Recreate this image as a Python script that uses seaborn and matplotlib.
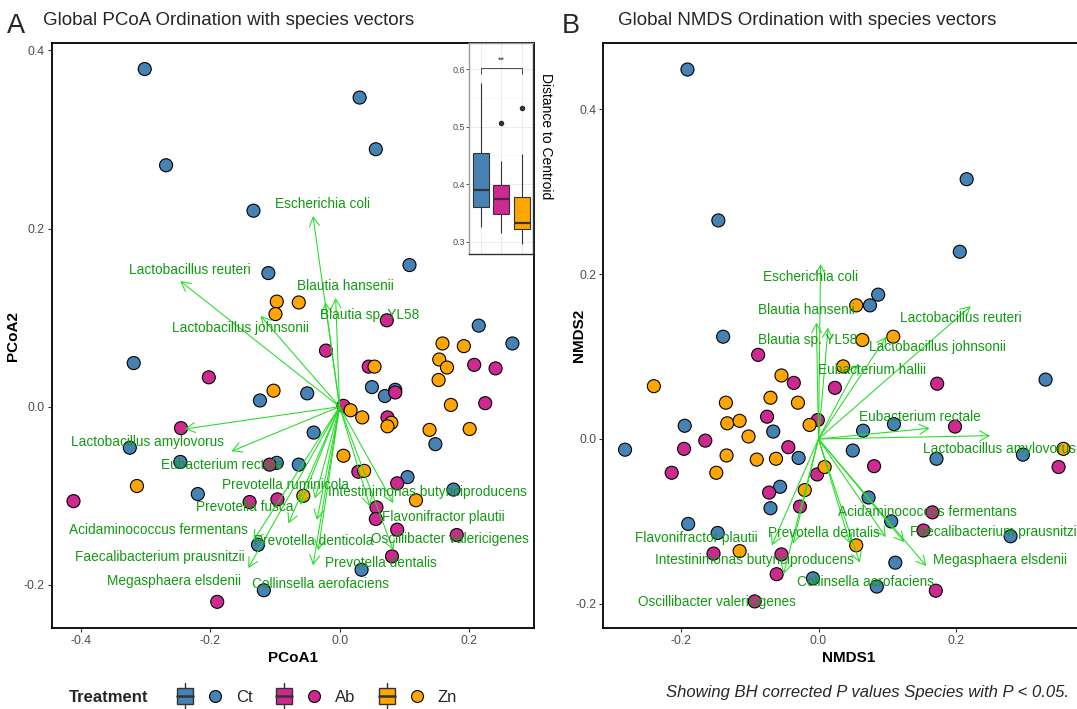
import numpy as np
import pandas as pd
import matplotlib
matplotlib.use("Agg")
import matplotlib.pyplot as plt
import seaborn as sns
from matplotlib.legend_handler import HandlerBase
from matplotlib.patches import Rectangle, Patch
from matplotlib.lines import Line2D
from matplotlib.ticker import FormatStrFormatter

# ---------------- data ----------------
treatments = ["Ct", "Ab", "Zn"]
colors = {"Ct": "#4682B4", "Ab": "#CD2990", "Zn": "#FFA500"}

# PCoA sample scores
pcoa_ct_x = [-0.301, 0.031, 0.056, -0.268, -0.133, 0.108, -0.110, 0.215, 0.267, -0.318, -0.123, -0.050, 0.050, 0.070,
             0.086, -0.040, 0.148, -0.324, -0.246, -0.097, -0.063, 0.105, 0.176, -0.219, -0.126, 0.034, -0.117]
pcoa_ct_y = [0.379, 0.347, 0.289, 0.271, 0.220, 0.159, 0.150, 0.091, 0.071, 0.049, 0.007, 0.015, 0.022, 0.012,
             0.019, -0.029, -0.042, -0.046, -0.062, -0.063, -0.065, -0.079, -0.093, -0.098, -0.155, -0.183, -0.206]
pcoa_ab_x = [0.073, -0.021, -0.202, 0.045, 0.208, 0.241, 0.086, 0.225, 0.006, 0.074, -0.245, -0.108, 0.029, 0.089,
             -0.411, -0.139, -0.096, 0.057, 0.056, 0.089, 0.181, 0.081, -0.189]
pcoa_ab_y = [0.097, 0.063, 0.033, 0.045, 0.047, 0.043, 0.016, 0.004, 0.001, -0.012, -0.024, -0.065, -0.073, -0.086,
             -0.106, -0.107, -0.104, -0.113, -0.126, -0.138, -0.144, -0.168, -0.219]
pcoa_zn_x = [-0.097, -0.063, -0.099, 0.159, 0.192, 0.154, 0.166, 0.054, 0.153, -0.102, 0.172, 0.017, 0.035, 0.080,
             0.074, 0.139, 0.201, 0.006, 0.038, -0.313, -0.056, 0.118]
pcoa_zn_y = [0.118, 0.117, 0.104, 0.071, 0.068, 0.053, 0.044, 0.045, 0.030, 0.018, 0.002, -0.004, -0.012, -0.018,
             -0.022, -0.026, -0.025, -0.055, -0.072, -0.089, -0.100, -0.105]

# NMDS sample scores
nmds_ct_x = [-0.191, 0.216, -0.146, 0.206, 0.087, 0.075, -0.139, 0.331, -0.195, -0.066, 0.065, 0.110, -0.282, 0.050,
             0.172, 0.298, -0.029, -0.056, -0.070, 0.073, -0.190, 0.106, -0.147, 0.280, 0.112, -0.008, 0.085]
nmds_ct_y = [0.448, 0.315, 0.265, 0.227, 0.175, 0.162, 0.124, 0.072, 0.016, 0.009, 0.010, 0.018, -0.013, -0.014,
             -0.024, -0.019, -0.023, -0.058, -0.084, -0.071, -0.103, -0.100, -0.114, -0.118, -0.150, -0.169, -0.179]
nmds_ab_x = [-0.088, -0.036, 0.024, 0.173, -0.075, -0.001, 0.199, -0.165, -0.196, -0.044, 0.081, 0.350, -0.214,
             -0.002, -0.072, -0.027, 0.166, 0.153, -0.153, -0.054, -0.061, 0.171, -0.093]
nmds_ab_y = [0.102, 0.068, 0.062, 0.067, 0.027, 0.023, 0.015, -0.002, -0.012, -0.010, -0.033, -0.034, -0.041,
             -0.043, -0.065, -0.082, -0.089, -0.111, -0.139, -0.140, -0.164, -0.184, -0.197]
nmds_zn_x = [0.055, 0.109, 0.064, 0.036, -0.054, -0.240, -0.135, -0.070, -0.030, -0.133, -0.115, -0.102, -0.013,
             -0.134, -0.090, -0.062, 0.357, -0.149, 0.009, -0.020, -0.115, 0.055]
nmds_zn_y = [0.162, 0.124, 0.120, 0.088, 0.077, 0.064, 0.044, 0.050, 0.044, 0.019, 0.022, 0.003, 0.017,
             -0.020, -0.025, -0.024, -0.012, -0.041, -0.034, -0.062, -0.136, -0.129]

# PCoA species vectors (arrow tips) and label positions
pcoa_species = ["Escherichia coli", "Lactobacillus reuteri", "Blautia hansenii", "Blautia sp. YL58",
                "Lactobacillus johnsonii", "Lactobacillus amylovorus", "Eubacterium rectale",
                "Prevotella ruminicola", "Intestinimonas butyriciproducens", "Prevotella fusca",
                "Flavonifractor plautii", "Acidaminococcus fermentans", "Prevotella denticola",
                "Oscillibacter valericigenes", "Faecalibacterium prausnitzii", "Prevotella dentalis",
                "Megasphaera elsdenii", "Collinsella aerofaciens"]
pcoa_vec_x = [-0.041, -0.246, -0.006, -0.022, -0.122, -0.239, -0.167, -0.038, 0.083, -0.061, 0.047, -0.079,
              -0.035, 0.083, -0.141, -0.033, -0.133, -0.041]
pcoa_vec_y = [0.214, 0.141, 0.122, 0.117, 0.102, -0.025, -0.050, -0.103, -0.108, -0.110, -0.112, -0.131,
              -0.127, -0.161, -0.181, -0.161, -0.150, -0.178]
pcoa_lab_x = [-0.026, -0.231, 0.009, 0.046, -0.153, -0.296, -0.182, -0.084, 0.136, -0.146, 0.160, -0.280,
              -0.040, 0.170, -0.277, 0.064, -0.255, -0.029]
pcoa_lab_y = [0.227, 0.154, 0.135, 0.103, 0.088, -0.040, -0.065, -0.088, -0.096, -0.112, -0.124, -0.138,
              -0.151, -0.148, -0.169, -0.175, -0.196, -0.199]

# NMDS species vectors and label positions
nmds_species = ["Escherichia coli", "Blautia hansenii", "Blautia sp. YL58", "Lactobacillus reuteri",
                "Lactobacillus johnsonii", "Eubacterium hallii", "Eubacterium rectale",
                "Lactobacillus amylovorus", "Acidaminococcus fermentans", "Faecalibacterium prausnitzii",
                "Megasphaera elsdenii", "Prevotella dentalis", "Collinsella aerofaciens",
                "Flavonifractor plautii", "Intestinimonas butyriciproducens", "Oscillibacter valericigenes"]
nmds_vec_x = [0.003, -0.003, 0.014, 0.222, 0.099, 0.058, 0.162, 0.250, 0.098, 0.125, 0.157, 0.046, 0.060,
              -0.037, -0.068, -0.051]
nmds_vec_y = [0.212, 0.141, 0.135, 0.161, 0.124, 0.091, 0.013, 0.004, -0.119, -0.125, -0.154, -0.127, -0.150,
              -0.127, -0.129, -0.164]
nmds_lab_x = [-0.011, -0.017, -0.016, 0.208, 0.174, 0.078, 0.148, 0.264, 0.159, 0.257, 0.265, 0.008, 0.069,
              -0.178, -0.094, -0.148]
nmds_lab_y = [0.197, 0.156, 0.120, 0.147, 0.111, 0.084, 0.027, -0.012, -0.089, -0.113, -0.147, -0.114, -0.173,
              -0.120, -0.147, -0.198]

# distance to centroid (inset boxplot)
dist_ct = [0.325, 0.340, 0.360, 0.375, 0.390, 0.420, 0.455, 0.500, 0.575]
dist_ab = [0.315, 0.330, 0.348, 0.360, 0.375, 0.390, 0.398, 0.440, 0.507]
dist_zn = [0.297, 0.310, 0.322, 0.328, 0.333, 0.350, 0.378, 0.452, 0.533]

caption = "Showing BH corrected P values Species with P < 0.05."

# ---------------- style ----------------
sns.set_theme(style="white")
plt.rcParams["font.family"] = ["Liberation Sans", "DejaVu Sans"]
arrow_col = "#22DD22"
label_col = "#119A11"
tick_col = "#4D4D4D"

fig = plt.figure(figsize=(10.77, 7.09), dpi=100)
W, H = 1077.0, 709.0


def px_axes(x0, y0, x1, y1):
    return fig.add_axes([x0 / W, 1 - y1 / H, (x1 - x0) / W, (y1 - y0) / H])


def scores_df(cx, cy, ax_, ay_, zx, zy):
    return pd.DataFrame({
        "x": cx + ax_ + zx,
        "y": cy + ay_ + zy,
        "Treatment": ["Ct"] * len(cx) + ["Ab"] * len(ax_) + ["Zn"] * len(zx),
    })


def style_axes(ax):
    for s in ax.spines.values():
        s.set_visible(True)
        s.set_color("black")
        s.set_linewidth(1.3)
    ax.tick_params(axis="both", which="major", direction="out", length=3, width=0.8,
                   color="#333333", labelcolor=tick_col, labelsize=8.8, pad=2,
                   left=True, bottom=True)
    ax.xaxis.set_major_formatter(FormatStrFormatter("%.1f"))
    ax.yaxis.set_major_formatter(FormatStrFormatter("%.1f"))
    ax.grid(False)


def draw_panel(ax, df, vx, vy, species, lx, ly):
    sns.scatterplot(data=df, x="x", y="y", hue="Treatment", hue_order=treatments, palette=colors,
                    s=88, edgecolor="black", linewidth=0.8, legend=False, ax=ax, zorder=2)
    for tx, ty in zip(vx, vy):
        ax.annotate("", xy=(tx, ty), xytext=(0, 0), xycoords="data", textcoords="data",
                    arrowprops=dict(arrowstyle="->,head_length=0.55,head_width=0.3", color=arrow_col,
                                    lw=0.75, shrinkA=0, shrinkB=0), zorder=3)
    for name, x, y in zip(species, lx, ly):
        ax.text(x, y, name, color=label_col, fontsize=9.8, ha="center", va="center", zorder=4,
                clip_on=True)


# ---- panel A ----
axA = px_axes(51.7, 43.3, 533.7, 628.3)
dfA = scores_df(pcoa_ct_x, pcoa_ct_y, pcoa_ab_x, pcoa_ab_y, pcoa_zn_x, pcoa_zn_y)
draw_panel(axA, dfA, pcoa_vec_x, pcoa_vec_y, pcoa_species, pcoa_lab_x, pcoa_lab_y)
axA.set_xlim(-0.4447, 0.2999)
axA.set_ylim(-0.2487, 0.4079)
axA.set_xticks([-0.4, -0.2, 0.0, 0.2])
axA.set_yticks([-0.2, 0.0, 0.2, 0.4])
style_axes(axA)
axA.set_xlabel("PCoA1", fontsize=11, fontweight="bold", color="black")
axA.set_ylabel("PCoA2", fontsize=11, fontweight="bold", color="black")
axA.xaxis.set_label_coords(0.5, -0.038)
axA.yaxis.set_label_coords(-0.066, 0.5)

# ---- panel B ----
axB = px_axes(603.3, 43.3, 1094, 628.3)
dfB = scores_df(nmds_ct_x, nmds_ct_y, nmds_ab_x, nmds_ab_y, nmds_zn_x, nmds_zn_y)
draw_panel(axB, dfB, nmds_vec_x, nmds_vec_y, nmds_species, nmds_lab_x, nmds_lab_y)
axB.set_xlim(-0.3137, 0.4016)
axB.set_ylim(-0.2296, 0.4798)
axB.set_xticks([-0.2, 0.0, 0.2])
axB.set_yticks([-0.2, 0.0, 0.2, 0.4])
style_axes(axB)
axB.set_xlabel("NMDS1", fontsize=11, fontweight="bold", color="black")
axB.set_ylabel("NMDS2", fontsize=11, fontweight="bold", color="black")
axB.xaxis.set_label_coords(0.5, -0.038)
axB.yaxis.set_label_coords(-0.035, 0.5)

# ---- inset boxplot ----
ins = px_axes(469, 43.3, 533, 254)
ins.set_zorder(5)
ins.set_facecolor("white")
box_df = pd.DataFrame({
    "Treatment": ["Ct"] * len(dist_ct) + ["Ab"] * len(dist_ab) + ["Zn"] * len(dist_zn),
    "Distance": dist_ct + dist_ab + dist_zn,
})
sns.boxplot(data=box_df, x="Treatment", y="Distance", hue="Treatment", order=treatments,
            hue_order=treatments, palette=colors, saturation=1, width=0.78, linecolor="#333333",
            linewidth=0.8, showcaps=False, legend=False, ax=ins,
            medianprops=dict(linewidth=1.6, color="#333333"),
            flierprops=dict(marker="o", markerfacecolor="#333333", markeredgecolor="#333333",
                            markersize=3))
ins.set_xlim(-0.585, 2.537)
ins.set_ylim(0.279, 0.6446)
ins.set_yticks([0.3, 0.4, 0.5, 0.6])
ins.set_yticks([0.35, 0.45, 0.55], minor=True)
ins.set_xticks([0, 1, 2])
ins.set_xticklabels([])
ins.set_axisbelow(True)
ins.grid(True, which="major", color="#EBEBEB", linewidth=0.7)
ins.grid(True, which="minor", axis="y", color="#F2F2F2", linewidth=0.4)
ins.tick_params(axis="y", which="major", length=2, width=0.6, color="#333333", labelsize=6.5,
                labelcolor=tick_col, pad=1, left=True)
ins.tick_params(axis="y", which="minor", length=0)
ins.tick_params(axis="x", length=0)
ins.set_xlabel("")
ins.set_ylabel("")
for side, s in ins.spines.items():
    s.set_visible(True)
    s.set_linewidth(1.0)
    s.set_color("#333333" if side in ("bottom", "right") else "#9A9A9A")
ins.plot([0, 0, 2, 2], [0.592, 0.601, 0.601, 0.592], color="#333333", lw=0.6)
ins.text(1, 0.607, "**", ha="center", va="bottom", fontsize=6.5, color="#333333")
ins.text(1.2, 0.558, "Distance to Centroid", rotation=270, ha="center", va="center",
         fontsize=10, color="black", transform=ins.transAxes, clip_on=False)

# ---- titles & tags ----
fig.text(7 / W, 1 - 32.7 / H, "A", fontsize=19.5, va="baseline", ha="left")
fig.text(43 / W, 1 - 25 / H, "Global PCoA Ordination with species vectors", fontsize=13.5,
         va="baseline", ha="left")
fig.text(562 / W, 1 - 32.7 / H, "B", fontsize=19.5, va="baseline", ha="left")
fig.text(618 / W, 1 - 25 / H, "Global NMDS Ordination with species vectors", fontsize=13.5,
         va="baseline", ha="left")


# ---- legend ----
class TreatHandler(HandlerBase):
    def create_artists(self, legend, orig_handle, xdescent, ydescent, width, height, fontsize, trans):
        fc = orig_handle.get_facecolor()
        x0 = -xdescent
        cy = -ydescent + height / 2
        bw, bh = 11.5, 11.5
        rect = Rectangle((x0, cy - bh / 2), bw, bh, facecolor=fc, edgecolor="#333333", lw=1.0,
                         transform=trans)
        med = Line2D([x0, x0 + bw], [cy, cy], color="#333333", lw=1.8, transform=trans)
        w1 = Line2D([x0 + bw / 2] * 2, [cy + bh / 2, cy + 9.4], color="#333333", lw=1.0, transform=trans)
        w2 = Line2D([x0 + bw / 2] * 2, [cy - bh / 2, cy - 9.4], color="#333333", lw=1.0, transform=trans)
        circ = Line2D([x0 + width - 4.4], [cy], marker="o", markersize=8.6, markerfacecolor=fc,
                      markeredgecolor="black", markeredgewidth=0.8, linestyle="none", transform=trans)
        return [rect, med, w1, w2, circ]


handles = [Patch(facecolor=colors[t]) for t in treatments]
fig.legend(handles=handles, labels=treatments, handler_map={Patch: TreatHandler()},
           loc="center left", bbox_to_anchor=(177 / W, 1 - 697 / H), ncol=3, frameon=False,
           fontsize=12, handlelength=2.64, handletextpad=0.9, columnspacing=1.4,
           borderpad=0, borderaxespad=0)
fig.text(69 / W, 1 - 697 / H, "Treatment", fontsize=12, fontweight="bold", va="center", ha="left")
fig.text(1069 / W, 1 - 693 / H, caption, fontsize=12, style="italic", ha="right", va="center")

fig.savefig("out.png", dpi=100)
